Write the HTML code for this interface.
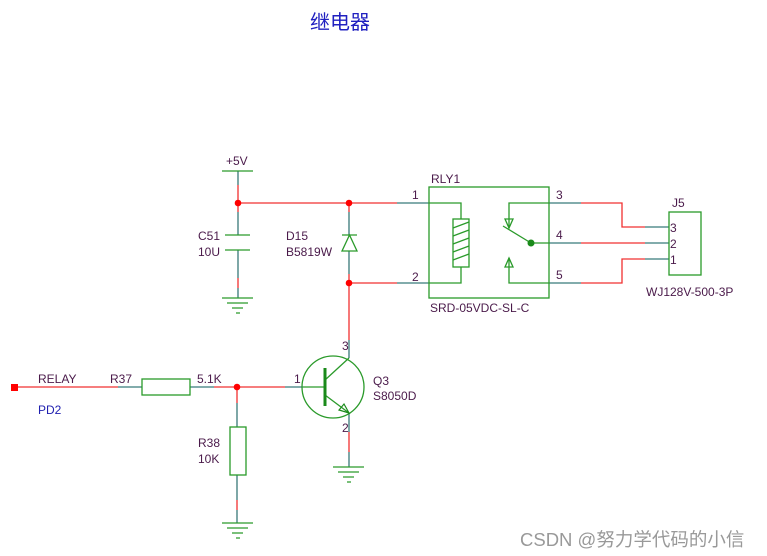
<!DOCTYPE html>
<html><head><meta charset="utf-8"><style>
html,body{margin:0;padding:0;background:#fff;}
svg{display:block;}
text{font-family:"Liberation Sans","Noto Sans CJK SC",sans-serif;font-size:12px;fill:#4a1a4a;}
</style></head><body>
<svg width="767" height="556" viewBox="0 0 767 556" xmlns="http://www.w3.org/2000/svg">
<rect width="767" height="556" fill="#fff"/>
<text x="310" y="29" style="font-size:20px;fill:#2020c0;font-family:'Noto Sans CJK SC',sans-serif">继电器</text>

<g fill="none" stroke-width="1.3">
<g stroke="#f03030">
<path d="M238 171V235M238 250V298"/>
<path d="M238 203H429"/>
<path d="M349 203V235M349 251V358"/>
<path d="M349 283H429"/>
<path d="M18 387H142M190 387H303"/>
<path d="M237 387V427M237 475V523"/>
<path d="M349 413V467"/>
<path d="M549 203H622V227H669"/>
<path d="M549 243H669"/>
<path d="M549 283H622V259H669"/>
</g>
<g stroke="#3a9a9a">
<path d="M238 171V185M238 212V235M238 250V278M238 288V298"/>
<path d="M397 203H429M397 283H429"/>
<path d="M349 212V235M349 251V274"/>
<path d="M118 387H142M190 387H214M285 387H303"/>
<path d="M237 403V427M237 475V500M237 510V523"/>
<path d="M349 340V358M349 413V432M349 452V467"/>
<path d="M549 203H581M549 243H581M549 283H581"/>
<path d="M645 227H669M645 243H669M645 259H669"/>
</g>
<g stroke="#2a9a2a">
<path d="M222 171H253"/>
<path d="M225 235H250M225 250H250"/>
<path d="M222 298H253M227 303H248M232 308H243M236 313H240"/>
<path d="M222 523H253M227 528H248M232 533H243M236 538H240"/>
<path d="M333 467H364M338 472H359M343 477H354M347 482H351"/>
<path d="M342 251H357L349.5 235Z M342 235H357"/>
<rect x="429" y="187" width="120" height="111"/>
<rect x="453" y="219" width="16" height="48"/>
<path d="M453 228L469 222M453 236L469 230M453 244L469 238M453 252L469 246M453 260L469 254"/>
<path d="M429 203H461V219M461 267V283H429"/>
<path d="M549 203H509V228M503 226L531 243M531 243H549M509 258V283H549"/>
<path d="M505 219H513L509 228Z M505 267H513L509 258Z"/>
<rect x="142" y="379" width="48" height="16"/>
<rect x="230" y="427" width="16" height="48"/>
<circle cx="333" cy="387" r="31"/>
<path d="M303 387H325M349 358L325 380M325 395L349 413"/>
<rect x="669" y="212" width="32" height="63"/>
</g>
</g>
<path d="M325 368V406" stroke="#1a8a1a" stroke-width="3"/>
<path d="M339 410L349 413L344 404Z" fill="none" stroke="#1a8a1a" stroke-width="1.2"/>
<circle cx="531" cy="243" r="3.5" fill="#1a8a1a"/>
<g fill="#f00">
<circle cx="238" cy="203" r="3.3"/>
<circle cx="349" cy="203" r="3.3"/>
<circle cx="349" cy="283" r="3.3"/>
<circle cx="237" cy="387" r="3.3"/>
<rect x="11" y="384" width="7" height="7"/>
</g>

<text x="226" y="165">+5V</text>
<text x="198" y="240">C51</text>
<text x="198" y="256">10U</text>
<text x="286" y="240">D15</text>
<text x="286" y="256">B5819W</text>
<text x="431" y="183">RLY1</text>
<text x="412" y="199">1</text>
<text x="412" y="281">2</text>
<text x="556" y="199">3</text>
<text x="556" y="239">4</text>
<text x="556" y="279">5</text>
<text x="430" y="312">SRD-05VDC-SL-C</text>
<text x="672" y="207">J5</text>
<text x="670" y="232">3</text>
<text x="670" y="248">2</text>
<text x="670" y="264">1</text>
<text x="646" y="296">WJ128V-500-3P</text>
<text x="38" y="383">RELAY</text>
<text x="38" y="414" style="fill:#2020b0">PD2</text>
<text x="110" y="383">R37</text>
<text x="197" y="383">5.1K</text>
<text x="294" y="383">1</text>
<text x="342" y="350">3</text>
<text x="342" y="432">2</text>
<text x="373" y="385">Q3</text>
<text x="373" y="400">S8050D</text>
<text x="198" y="447">R38</text>
<text x="198" y="463">10K</text>
<text x="520" y="546" style="font-size:18.5px;fill:#999">CSDN @努力学代码的小信</text>
</svg>
</body></html>
